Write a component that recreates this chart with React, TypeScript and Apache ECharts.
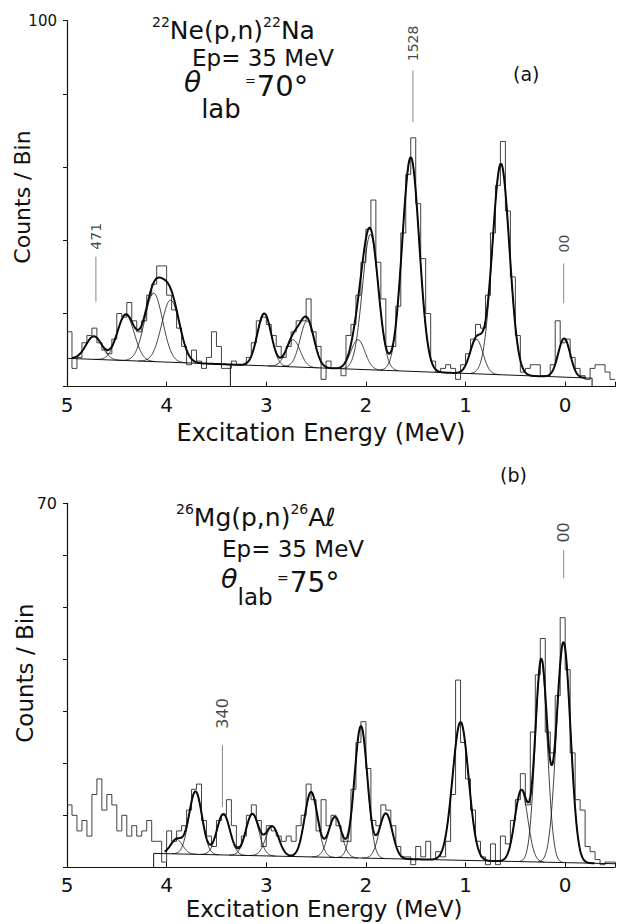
import React, { useEffect, useRef } from "react";
import * as echarts from "echarts";

const FONT = "'DejaVu Sans', 'Liberation Sans', sans-serif";
const INK = "#111111";

// histogram binning (MeV)
const BIN_WIDTH = 0.05;
const HIST_START = 5.0;

// counts per bin, from 5.0 MeV downwards (panel a)
const COUNTS_A = [
  15, 5, 8, 12, 14, 16, 12, 10, 9, 13,
  20, 19, 23, 18, 15, 18, 25, 28, 33, 33,
  25, 21, 16, 11, 6, 10, 7, 5, 8, 15,
  11, 5, 5, 7, 6, 6, 8, 12, 18, 19,
  17, 14, 11, 8, 11, 15, 18, 18, 24, 15,
  11, 2, 7, 5, 5, 3, 14, 17, 25, 34,
  43, 51, 34, 24, 11, 11, 22, 42, 58, 68,
  50, 35, 20, 7, 4, 5, 6, 5, 2, 6,
  9, 13, 17, 16, 25, 42, 55, 67, 48, 30,
  14, 4, 5, 6, 6, 3, 3, 6, 18, 12,
  13, 8, 5, 3, 2, 5, 6, 6, 4, 2,
];

// counts per bin, from 5.0 MeV downwards (panel b)
const COUNTS_B = [
  12, 10, 7, 9, 6, 14, 17, 11, 14, 12,
  7, 10, 6, 8, 6, 7, 9, 5, 5, 1,
  7, 5, 7, 8, 11, 15, 16, 9, 6, 4,
  9, 10, 13, 8, 4, 6, 10, 12, 9, 4,
  8, 7, 6, 5, 6, 5, 8, 10, 16, 13,
  7, 13, 8, 10, 8, 5, 5, 15, 24, 28,
  19, 9, 8, 12, 11, 8, 4, 2, 2, 0.5,
  4, 2, 5, 1.5, 3, 2, 5, 14, 36, 24,
  17, 11, 5, 2, 0.5, 4.5, 0.5, 6, 4.5, 9,
  13, 18, 12, 26, 37, 44, 26, 22, 33, 48,
  38, 22, 13, 11, 4, 3, 1.5, 0.5, 1, 1,
];

// linear background: [value at 0 MeV, slope per MeV]
const BG_A = [2.6, 1.03];
const BG_B = [0.9, 0.43];
const BG_RANGE_A = [5.0, -0.27];
const BG_RANGE_B = [4.13, -0.5];
const BG_DROPS_A = [3.36, -0.27];
const BG_DROPS_B = [4.13];

// fitted peaks: [centre (MeV), amplitude (counts), sigma (MeV)]
const PEAKS_A = [
  [4.73, 6.3, 0.08],
  [4.41, 12.5, 0.085],
  [4.13, 18.7, 0.09],
  [3.96, 17, 0.09],
  [3.02, 14.3, 0.07],
  [2.73, 7.4, 0.07],
  [2.59, 12.7, 0.07],
  [2.08, 8.1, 0.07],
  [1.955, 37, 0.08],
  [1.55, 58.5, 0.085],
  [0.89, 9.4, 0.065],
  [0.645, 57.7, 0.085],
  [0.01, 10.6, 0.06],
];
const PEAKS_B = [
  [3.9, 2.8, 0.06],
  [3.71, 12.1, 0.065],
  [3.43, 7.9, 0.065],
  [3.14, 8.0, 0.065],
  [2.94, 5.7, 0.065],
  [2.55, 12.5, 0.065],
  [2.31, 7.8, 0.065],
  [2.05, 25.4, 0.065],
  [1.8, 8.7, 0.065],
  [1.05, 26.6, 0.08],
  [0.44, 13.7, 0.065],
  [0.24, 38.8, 0.06],
  [0.017, 42.4, 0.07],
];
const FIT_RANGE_A = [4.95, -0.2];
const FIT_RANGE_B = [4.02, -0.3];

// axes
const X_MIN = -0.5;
const X_MAX = 5;
const Y_MAX_A = 100;
const Y_MAX_B = 70;
const Y_STEP_A = 20;
const Y_STEP_B = 10;

// level markers: [label, energy, line from, line to, label centre] (counts)
const MARKERS_A: [string, number, number, number, number][] = [
  ["471", 4.71, 23.2, 35.5, 41.1],
  ["1528", 1.528, 72.3, 86.4, 93.8],
  ["00", 0.015, 22.8, 33.7, 39.1],
];
const MARKERS_B: [string, number, number, number, number][] = [
  ["340", 3.44, 11.6, 23.5, 29.6],
  ["00", 0.015, 55.6, 61, 64.4],
];

function histPoints(counts: number[]) {
  const pts: number[][] = [];
  counts.forEach((c, i) => {
    const hi = HIST_START - i * BIN_WIDTH;
    const lo = hi - BIN_WIDTH;
    pts.push([hi, c], [lo, c]);
  });
  return pts;
}

const gauss = (e: number, p: number[]) =>
  p[1] * Math.exp(-((e - p[0]) * (e - p[0])) / (2 * p[2] * p[2]));

function sampleRange(hi: number, lo: number, f: (e: number) => number) {
  const step = 0.005;
  const n = Math.max(1, Math.round((hi - lo) / step));
  const pts: number[][] = [];
  for (let i = 0; i <= n; i++) {
    const e = hi - ((hi - lo) * i) / n;
    pts.push([e, f(e)]);
  }
  return pts;
}

function lineS(k: number, data: number[][], width: number, color: string, z: number) {
  return {
    type: "line",
    xAxisIndex: k,
    yAxisIndex: k,
    data,
    showSymbol: false,
    symbol: "none",
    silent: true,
    clip: true,
    z,
    lineStyle: { width, color },
  };
}

function panelSeries(
  k: number,
  counts: number[],
  bgp: number[],
  bgRange: number[],
  drops: number[],
  peaks: number[][],
  fitRange: number[],
  markers: [string, number, number, number, number][],
  labelSize: number
) {
  const bg = (e: number) => bgp[0] + bgp[1] * e;
  const s: any[] = [];
  s.push(lineS(k, histPoints(counts), 0.9, "#2b2b2b", 2));
  s.push(lineS(k, [[bgRange[0], bg(bgRange[0])], [bgRange[1], bg(bgRange[1])]], 1, INK, 3));
  drops.forEach((e) => s.push(lineS(k, [[e, 0], [e, bg(e)]], 1, INK, 3)));
  peaks.forEach((p) => {
    const hi = Math.min(fitRange[0], p[0] + 3.6 * p[2]);
    const lo = Math.max(fitRange[1], p[0] - 3.6 * p[2]);
    s.push(lineS(k, sampleRange(hi, lo, (e) => bg(e) + gauss(e, p)), 0.8, INK, 4));
  });
  s.push(
    lineS(
      k,
      sampleRange(fitRange[0], fitRange[1], (e) => bg(e) + peaks.reduce((a, p) => a + gauss(e, p), 0)),
      2,
      "#0a0a0a",
      5
    )
  );
  markers.forEach((m) => s.push(lineS(k, [[m[1], m[2]], [m[1], m[3]]], 0.7, "#555", 3)));
  s.push({
    type: "scatter",
    xAxisIndex: k,
    yAxisIndex: k,
    symbolSize: 0,
    silent: true,
    z: 6,
    data: markers.map((m) => ({ name: m[0], value: [m[1], m[4]] })),
    label: {
      show: true,
      position: "inside",
      formatter: "{b}",
      rotate: 90,
      fontFamily: FONT,
      fontSize: labelSize,
      color: INK,
    },
  });
  return s;
}

function xAxisFor(k: number) {
  return {
    type: "value",
    gridIndex: k,
    position: "bottom",
    min: X_MIN,
    max: X_MAX,
    inverse: true,
    axisLine: { show: true, onZero: false, lineStyle: { color: INK, width: 1.2 } },
    axisTick: { show: true, inside: true, length: 5, lineStyle: { color: INK, width: 1 } },
    axisLabel: {
      formatter: (v: number) => (Number.isInteger(v) && v >= 0 ? String(v) : ""),
      fontFamily: FONT,
      fontSize: 20,
      color: INK,
      margin: 8,
    },
    splitLine: { show: false },
  };
}

function yAxisFor(k: number, max: number, step: number, size: number) {
  return {
    type: "value",
    gridIndex: k,
    position: "left",
    min: 0,
    max,
    interval: step,
    axisLine: { show: true, onZero: false, lineStyle: { color: INK, width: 1.2 } },
    axisTick: { show: true, inside: false, length: 4, lineStyle: { color: INK } },
    axisLabel: {
      formatter: (v: number) => (v === max ? String(v) : ""),
      fontFamily: FONT,
      fontSize: size,
      color: INK,
      margin: 10,
    },
    splitLine: { show: false },
  };
}

function txt(x: number, y: number, text: string, fontSize: number, extra: any = {}, el: any = {}) {
  return {
    type: "text",
    x,
    y,
    silent: true,
    ...el,
    style: {
      text,
      fontFamily: FONT,
      fontSize,
      fill: INK,
      align: "left",
      textAlign: "left",
      verticalAlign: "middle",
      textVerticalAlign: "middle",
      ...extra,
    },
  };
}

function richTitle(x: number, y: number, text: string) {
  return txt(x, y, text, 25, {
    rich: {
      s: { fontFamily: FONT, fontSize: 14, fill: INK, verticalAlign: "top", lineHeight: 16 },
      m: { fontFamily: FONT, fontSize: 25, fill: INK, lineHeight: 30 },
    },
  });
}

// theta-lab line as one rich text, anchored at its top edge
function thetaLine(x: number, top: number, angle: string, h: number, th: number, lab: number, eq: number, num: number) {
  return txt(x, top, `{t|θ}{l|lab}{e| =}{n|${angle}°}`, num, {
    verticalAlign: "top",
    textVerticalAlign: "top",
    rich: {
      t: { fontFamily: FONT, fontSize: th, fontStyle: "italic", fill: INK, verticalAlign: "top", lineHeight: h },
      l: { fontFamily: FONT, fontSize: lab, fill: INK, verticalAlign: "bottom" },
      e: { fontFamily: FONT, fontSize: eq, fill: INK, verticalAlign: "top", padding: [6, 1, 0, 0] },
      n: { fontFamily: FONT, fontSize: num, fill: INK, verticalAlign: "top", padding: [3, 0, 0, 0] },
    },
  });
}

function buildOption() {
  const center = { align: "center", textAlign: "center" };
  return {
    animation: false,
    backgroundColor: "#ffffff",
    grid: [
      { left: 67, top: 20.7, width: 549.5, height: 366 },
      { left: 67, top: 503.3, width: 549.5, height: 364 },
    ],
    xAxis: [xAxisFor(0), xAxisFor(1)],
    yAxis: [yAxisFor(0, Y_MAX_A, Y_STEP_A, 15), yAxisFor(1, Y_MAX_B, Y_STEP_B, 16)],
    series: [
      ...panelSeries(0, COUNTS_A, BG_A, BG_RANGE_A, BG_DROPS_A, PEAKS_A, FIT_RANGE_A, MARKERS_A, 14),
      ...panelSeries(1, COUNTS_B, BG_B, BG_RANGE_B, BG_DROPS_B, PEAKS_B, FIT_RANGE_B, MARKERS_B, 16),
    ],
    graphic: [
      // panel (a)
      richTitle(152, 30, "{s|22}{m|Ne(p,n)}{s|22}{m|Na}"),
      txt(192, 58, "Ep= 35 MeV", 23, { lineHeight: 14 }),
      thetaLine(184, 68, "70", 54, 28, 26, 13, 29),
      txt(513, 74, "(a)", 19),
      txt(22, 197, "Counts / Bin", 22, center, { rotation: Math.PI / 2 }),
      txt(321, 433, "Excitation Energy (MeV)", 24, center),
      // panel (b)
      richTitle(176, 517, "{s|26}{m|Mg(p,n)}{s|26}{m|Aℓ}"),
      txt(222, 549, "Ep= 35 MeV", 23, { lineHeight: 14 }),
      thetaLine(221, 565, "75", 43, 27, 23, 14, 28),
      txt(500, 475, "(b)", 19),
      txt(25, 673, "Counts / Bin", 23, center, { rotation: Math.PI / 2 }),
      txt(324, 909, "Excitation Energy (MeV)", 23, { ...center, lineHeight: 20 }),
    ],
  };
}

export default function App() {
  const ref = useRef<HTMLDivElement>(null);
  useEffect(() => {
    if (!ref.current) return;
    const chart = echarts.init(ref.current, null, { renderer: "svg" });
    chart.setOption(buildOption() as any);
    return () => chart.dispose();
  }, []);
  return (
    <div
      ref={ref}
      style={{ position: "fixed", left: 0, top: 0, width: 618, height: 924, background: "#fff" }}
    />
  );
}
